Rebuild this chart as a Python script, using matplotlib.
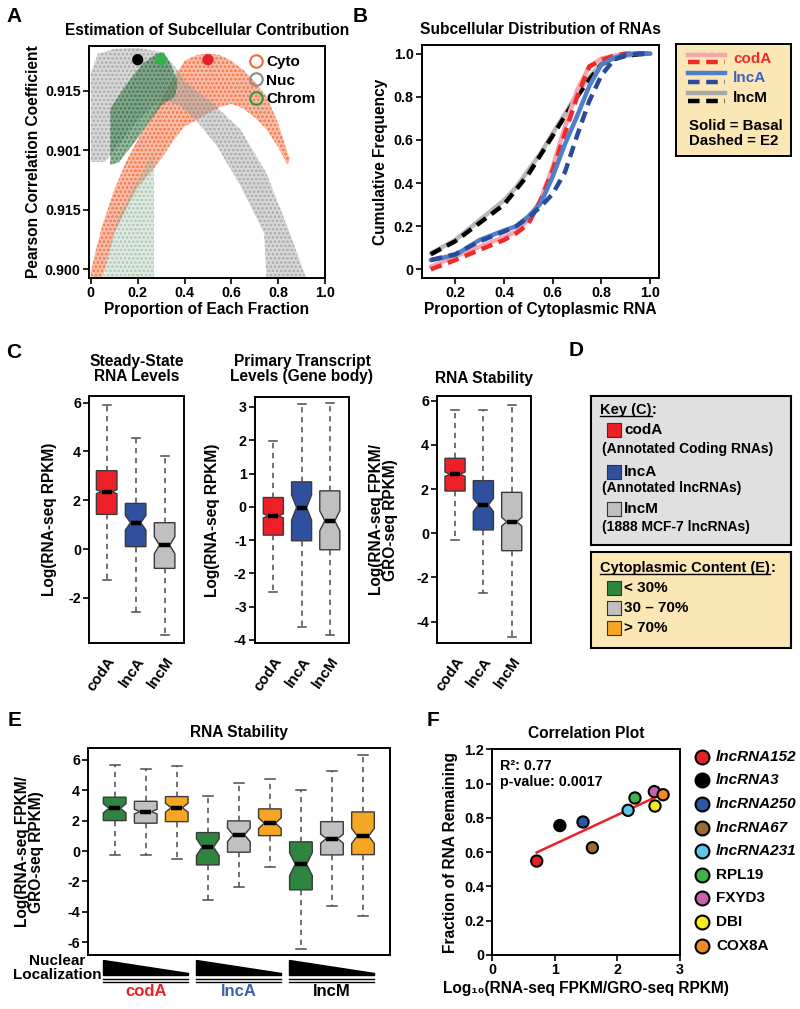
import matplotlib
matplotlib.use("Agg")
import matplotlib.pyplot as plt
import matplotlib.transforms as mtransforms
from matplotlib.patches import Polygon
from matplotlib.lines import Line2D
import numpy as np

plt.rcParams['font.family'] = ['Liberation Sans', 'DejaVu Sans']
plt.rcParams['font.weight'] = 'bold'
plt.rcParams['axes.labelweight'] = 'bold'
plt.rcParams['axes.titleweight'] = 'bold'
plt.rcParams['hatch.linewidth'] = 0.5
plt.rcParams['axes.linewidth'] = 1.4

W, H = 800, 1009
TICK = 10.3
LAB = 11.2

# ---------------- data ----------------
# A: outlines of the correlation clouds (x = proportion, y = position on the axis)
cyto_x = [0.0, 0.02, 0.05, 0.1, 0.15, 0.2, 0.25, 0.3, 0.35, 0.4, 0.45, 0.5, 0.55, 0.6, 0.65, 0.7, 0.75, 0.8, 0.84, 0.85,
          0.84, 0.8, 0.75, 0.7, 0.65, 0.6, 0.55, 0.5, 0.45, 0.4, 0.35, 0.3, 0.25, 0.2, 0.15, 0.1, 0.05, 0.0]
cyto_y = [-0.05, 0.3, 0.75, 1.33, 1.8, 2.17, 2.5, 2.85, 3.2, 3.5, 3.6, 3.62, 3.6, 3.5, 3.35, 3.15, 2.9, 2.45, 1.95, 1.85,
          1.75, 2.05, 2.35, 2.55, 2.7, 2.78, 2.72, 2.62, 2.5, 2.4, 2.15, 1.85, 1.6, 1.38, 1.0, 0.6, -0.15, -0.15]
nuc_x = [0.0, 0.0, 0.03, 0.1, 0.2, 0.3, 0.35, 0.41, 0.52, 0.64, 0.75, 0.85, 0.92,
         0.75, 0.74, 0.64, 0.54, 0.45, 0.38, 0.3, 0.2, 0.1, 0.06]
nuc_y = [1.8, 3.3, 3.62, 3.7, 3.72, 3.65, 3.45, 3.12, 2.79, 2.34, 1.61, 0.6, -0.15,
         -0.15, 0.6, 1.39, 2.06, 2.5, 2.75, 2.85, 2.5, 2.0, 1.8]
chrom_x = [0.083, 0.083, 0.15, 0.22, 0.28, 0.31, 0.34, 0.37, 0.36, 0.3, 0.2, 0.12]
chrom_y = [1.75, 2.7, 3.1, 3.45, 3.62, 3.65, 3.45, 3.15, 2.9, 2.75, 2.2, 1.8]
chrom_low_x = [0.055, 0.27, 0.27, 0.2, 0.12, 0.08, 0.06]
chrom_low_y = [-0.15, -0.15, 1.95, 1.5, 0.9, 0.4, 0.0]
best_x = [0.2, 0.3, 0.5]
best_y = [3.52, 3.52, 3.52]
a_ticks = [0, 1, 2, 3]
a_ticklabels = ['0.900', '0.915', '0.901', '0.915']

# B: cumulative distributions
b_x = [0.1, 0.2, 0.3, 0.4, 0.45, 0.5, 0.55, 0.6, 0.65, 0.7, 0.75, 0.8, 0.85, 0.9, 0.95, 1.0]
coda_basal = [0.012, 0.06, 0.105, 0.15, 0.175, 0.23, 0.32, 0.475, 0.66, 0.83, 0.94, 0.977, 0.99, 1.0, 1.0, 1.0]
coda_e2 = [0.0, 0.043, 0.09, 0.136, 0.167, 0.21, 0.32, 0.46, 0.63, 0.80, 0.94, 0.97, 0.99, 1.0, 1.0, 1.0]
lnca_basal = [0.043, 0.066, 0.136, 0.18, 0.2, 0.245, 0.305, 0.43, 0.58, 0.71, 0.85, 0.95, 0.98, 0.995, 1.0, 1.0]
lnca_e2 = [0.043, 0.07, 0.13, 0.175, 0.2, 0.24, 0.29, 0.35, 0.45, 0.62, 0.78, 0.9, 0.97, 0.995, 1.0, 1.0]
lncm_basal = [0.074, 0.136, 0.228, 0.32, 0.38, 0.46, 0.537, 0.63, 0.72, 0.815, 0.89, 0.954, 0.977, 0.99, 0.997, 1.0]
lncm_e2 = [0.07, 0.13, 0.215, 0.30, 0.37, 0.44, 0.53, 0.62, 0.71, 0.80, 0.88, 0.95, 0.975, 0.99, 0.997, 1.0]

# C: box plot summaries (codA, lncA, lncM)
c_names = ['codA', 'lncA', 'lncM']
steady_lo = [-1.27, -2.57, -3.52]
steady_q1 = [1.42, 0.1, -0.79]
steady_med = [2.35, 1.08, 0.16]
steady_q3 = [3.21, 1.87, 1.08]
steady_hi = [5.9, 4.54, 3.82]
steady_notch = [0.08, 0.3, 0.35]

primary_lo = [-2.57, -3.62, -3.85]
primary_q1 = [-0.85, -1.02, -1.29]
primary_med = [-0.27, -0.02, -0.42]
primary_q3 = [0.28, 0.75, 0.48]
primary_hi = [1.98, 3.1, 3.11]
primary_notch = [0.06, 0.38, 0.3]

stab_lo = [-0.3, -2.71, -4.68]
stab_q1 = [1.91, 0.15, -0.79]
stab_med = [2.67, 1.28, 0.52]
stab_q3 = [3.39, 2.38, 1.85]
stab_hi = [5.58, 5.58, 5.8]
stab_notch = [0.1, 0.3, 0.2]

# E: stability split by cytoplasmic content (<30%, 30-70%, >70%) for each class
e_lo = [-0.23, -0.23, -0.49, -3.21, -2.34, -1.02, -6.44, -3.59, -4.25]
e_q1 = [2.01, 1.84, 1.94, -0.91, -0.07, 1.02, -2.55, -0.25, -0.23]
e_med = [2.82, 2.6, 2.86, 0.26, 1.07, 1.84, -0.86, 0.82, 1.0]
e_q3 = [3.55, 3.28, 3.59, 1.22, 1.99, 2.78, 0.61, 1.94, 2.58]
e_hi = [5.67, 5.39, 5.6, 3.63, 4.51, 4.77, 4.03, 5.26, 6.33]
e_notch = [0.3, 0.15, 0.3, 0.55, 0.45, 0.35, 0.75, 0.3, 0.5]

# F: correlation plot
f_names = ['lncRNA152', 'lncRNA3', 'lncRNA250', 'lncRNA67', 'lncRNA231', 'RPL19', 'FXYD3', 'DBI', 'COX8A']
f_x = [0.71, 1.08, 1.45, 1.60, 2.17, 2.28, 2.59, 2.60, 2.73]
f_y = [0.548, 0.755, 0.776, 0.626, 0.844, 0.916, 0.953, 0.869, 0.935]
f_colors = ['#e8202a', '#000000', '#2c56a6', '#9a6b30', '#5cc8e6', '#44b049', '#c860b0', '#f4ec1c', '#f08a24']
f_italic = [True, True, True, True, True, False, False, False, False]

RED = '#ee2027'
BLUE = '#2f4f9f'
GREY = '#c0c0c0'
GREEN = '#2e8540'
ORANGE = '#f5a623'

fig = plt.figure(figsize=(8, 10.09), dpi=100)


def px_axes(l, t, r, b, **kw):
    return fig.add_axes([l / W, 1 - b / H, (r - l) / W, (b - t) / H], **kw)


def ftext(x, y, s, **kw):
    return fig.text(x / W, 1 - y / H, s, **kw)


def style_ax(ax):
    ax.tick_params(direction='out', length=4, width=1.2, labelsize=TICK, pad=2)


for letter, (lx, ly) in zip('ABCDEF', [(14, 16), (360, 16), (14, 352), (576, 350), (15, 721), (433, 721)]):
    ftext(lx, ly, letter, fontsize=15, ha='center', va='center')

# ---------------- A ----------------
axA = px_axes(89, 46, 325, 278)
style_ax(axA)
for xs, ys, col, fa, ha in [(cyto_x, cyto_y, '#f26b3a', 0.45, 0.7),
                            (chrom_low_x, chrom_low_y, '#8fb39a', 0.28, 0.5),
                            (nuc_x, nuc_y, '#9c9c9c', 0.4, 0.6),
                            (chrom_x, chrom_y, '#3c7a4c', 0.55, 0.6)]:
    pts = np.column_stack([xs, ys])
    axA.add_patch(Polygon(pts, closed=True, facecolor=col, alpha=fa, lw=0))
    axA.add_patch(Polygon(pts, closed=True, facecolor='none', edgecolor=col, alpha=ha, lw=0, hatch='oooo'))
axA.scatter(best_x, best_y, s=50, c=['black', '#2fb34a', '#e8202a'], zorder=5)
handles = [Line2D([], [], ls='none', marker='o', ms=9, mfc='none', mew=1.5, mec=c)
           for c in ['#f26b3a', '#8c8c8c', '#2e9a48']]
axA.legend(handles, ['Cyto', 'Nuc', 'Chrom'], loc='upper right', frameon=False, fontsize=11,
           handletextpad=0.1, labelspacing=0.3, borderaxespad=0.2, handlelength=1.2)
axA.set_xlim(-0.008, 1.0)
axA.set_ylim(-0.15, 3.75)
axA.set_xticks([0, 0.2, 0.4, 0.6, 0.8, 1.0])
axA.set_xticklabels(['0', '0.2', '0.4', '0.6', '0.8', '1.0'])
axA.set_yticks(a_ticks)
axA.set_yticklabels(a_ticklabels)
axA.set_title('Estimation of Subcellular Contribution', fontsize=LAB, pad=8)
axA.set_xlabel('Proportion of Each Fraction', fontsize=LAB, labelpad=1)
axA.set_ylabel('Pearson Correlation Coefficient', fontsize=LAB, labelpad=3)

# ---------------- B ----------------
axB = px_axes(422, 45, 659, 278)
style_ax(axB)
dash = (0, (2.6, 1.5))
axB.plot(b_x, lncm_basal, color='#b8b8b8', lw=3.2, solid_capstyle='round')
axB.plot(b_x, lncm_e2, color='black', lw=3.2, ls=dash)
axB.plot(b_x, coda_basal, color='#f4a6ae', lw=3.2, solid_capstyle='round')
axB.plot(b_x, coda_e2, color='#ee2a2a', lw=3.2, ls=dash)
axB.plot(b_x, lnca_basal, color='#4f7fc8', lw=3.2, solid_capstyle='round')
axB.plot(b_x, lnca_e2, color='#2a4b9b', lw=3.2, ls=dash)
axB.set_xlim(0.064, 1.036)
axB.set_ylim(-0.04, 1.04)
axB.set_xticks([0.2, 0.4, 0.6, 0.8, 1.0])
axB.set_xticklabels(['0.2', '0.4', '0.6', '0.8', '1.0'])
axB.set_yticks([0, 0.2, 0.4, 0.6, 0.8, 1.0])
axB.set_yticklabels(['0', '0.2', '0.4', '0.6', '0.8', '1.0'])
axB.set_title('Subcellular Distribution of RNAs', fontsize=LAB, pad=8)
axB.set_xlabel('Proportion of Cytoplasmic RNA', fontsize=LAB, labelpad=1)
axB.set_ylabel('Cumulative Frequency', fontsize=LAB, labelpad=4)

# B key
axBk = px_axes(675.7, 44, 790.7, 155.7, facecolor='#fbe7b5')
axBk.set_xlim(675.7, 790.7)
axBk.set_ylim(155.7, 44)
axBk.set_xticks([])
axBk.set_yticks([])
for (ys, yd, yt, cs, cd, lab, tc) in [(55, 62.3, 59, '#f4a6ae', '#ee2a2a', 'codA', '#ee2a2a'),
                                       (73.3, 81.7, 78, '#4f7fc8', '#2a4b9b', 'lncA', '#3a62b5'),
                                       (93.3, 101, 98, '#a8a8a8', 'black', 'lncM', 'black')]:
    axBk.plot([688.3, 725], [ys, ys], color=cs, lw=3.2)
    axBk.plot([688.3, 725], [yd, yd], color=cd, lw=3.2, ls=dash)
    axBk.text(733, yt, lab, color=tc, fontsize=11, va='center')
axBk.text(689, 126, 'Solid = Basal', fontsize=10.8, va='center')
axBk.text(689, 141, 'Dashed = E2', fontsize=10.8, va='center')


# ---------------- C ----------------
def draw_boxes(ax, pos, lo, q1, med, q3, hi, notch, colors, width, capw):
    stats = []
    for i in range(len(pos)):
        stats.append(dict(whislo=lo[i], q1=q1[i], med=med[i], q3=q3[i], whishi=hi[i],
                          cilo=med[i] - notch[i], cihi=med[i] + notch[i], fliers=[]))
    bp = ax.bxp(stats, positions=pos, widths=width, capwidths=capw, shownotches=True,
                patch_artist=True, showfliers=False,
                boxprops=dict(edgecolor='#3a3a3a', linewidth=1.0),
                medianprops=dict(color='black', linewidth=3.2, solid_capstyle='butt'),
                whiskerprops=dict(color='#4a4a4a', linewidth=1.1, linestyle=(0, (3.5, 3))),
                capprops=dict(color='#4a4a4a', linewidth=1.1))
    for patch, c in zip(bp['boxes'], colors):
        patch.set_facecolor(c)
    return bp


c_cols = [RED, BLUE, GREY]
c_panels = [
    ((89.3, 396, 184.3, 643.3), (0.4, 3.68), (-3.86, 6.27), [-2, 0, 2, 4, 6],
     (steady_lo, steady_q1, steady_med, steady_q3, steady_hi, steady_notch),
     'Steady-State\nRNA Levels', 'Log(RNA-seq RPKM)', 57, (136.7, 369)),
    ((255, 397, 349, 643.3), (0.35, 3.68), (-4.1, 3.3), [-4, -3, -2, -1, 0, 1, 2, 3],
     (primary_lo, primary_q1, primary_med, primary_q3, primary_hi, primary_notch),
     'Primary Transcript\nLevels (Gene body)', 'Log(RNA-seq RPKM)', 220, (302, 369)),
    ((437.3, 396, 531, 643.3), (0.375, 3.68), (-4.98, 6.21), [-4, -2, 0, 2, 4, 6],
     (stab_lo, stab_q1, stab_med, stab_q3, stab_hi, stab_notch),
     'RNA Stability', 'Log(RNA-seq FPKM/\nGRO-seq RPKM)', 398, (484, 379)),
]
for box, xl, yl, yt, vals, title, ylab, ylab_x, title_xy in c_panels:
    ax = px_axes(*box)
    style_ax(ax)
    draw_boxes(ax, [1, 2, 3], *vals, c_cols, 0.71, 0.28)
    ax.set_xlim(*xl)
    ax.set_ylim(*yl)
    ax.set_yticks(yt)
    ax.set_yticklabels([str(v) for v in yt])
    ax.set_xticks([1, 2, 3])
    ax.set_xticklabels(c_names, rotation=55, ha='right', rotation_mode='anchor', fontsize=11)
    ax.tick_params(axis='x', length=0, pad=8)
    ax.set_ylabel(ylab, fontsize=LAB, linespacing=0.95)
    ax.yaxis.set_label_coords((ylab_x - box[0]) / (box[2] - box[0]), 0.5)
    ftext(title_xy[0], title_xy[1], title, fontsize=LAB, ha='center', va='center', linespacing=1.0)

# ---------------- D ----------------
axD1 = px_axes(590.7, 396, 791, 545, facecolor='#e0e0e0')
axD2 = px_axes(590.7, 551.7, 791, 648, facecolor='#fbe7b5')
for axd, t, b in [(axD1, 396, 545), (axD2, 551.7, 648)]:
    axd.set_xlim(590.7, 791)
    axd.set_ylim(b, t)
    axd.set_xticks([])
    axd.set_yticks([])
    for s in axd.spines.values():
        s.set_linewidth(1.5)

renderer = fig.canvas.get_renderer()


def underlined(ax, x, y, s, size):
    t = ax.text(x, y, s, fontsize=size, va='center')
    bb = t.get_window_extent(renderer=renderer)
    x_end = x + bb.width * 100 / fig.dpi  # one data unit per pixel
    ax.plot([x, x_end], [y + 6, y + 6], color='black', lw=1)
    ax.text(x_end + 0.5, y, ':', fontsize=size, va='center')


underlined(axD1, 600, 410, 'Key (C)', 10.5)
for y, y2, col, lab, sub in [(430, 449, RED, 'codA', '(Annotated Coding RNAs)'),
                             (471.7, 488, BLUE, 'lncA', '(Annotated lncRNAs)'),
                             (509.3, 527.3, GREY, 'lncM', '(1888 MCF-7 lncRNAs)')]:
    axD1.scatter([613.5], [y], marker='s', s=100, c=col, edgecolors='#333333', linewidths=0.8)
    axD1.text(624, y, lab, fontsize=11, va='center')
    axD1.text(602, y2, sub, fontsize=10, va='center')

underlined(axD2, 600, 568.3, 'Cytoplasmic Content (E)', 10.5)
for y, col, lab in [(587.7, GREEN, '< 30%'), (608.3, GREY, '30 \u2013 70%'), (628.3, ORANGE, '> 70%')]:
    axD2.scatter([613.5], [y], marker='s', s=100, c=col, edgecolors='#333333', linewidths=0.8)
    axD2.text(624, y, lab, fontsize=11, va='center')

# ---------------- E ----------------
axE = px_axes(88.3, 748.3, 390, 955)
style_ax(axE)
e_pos = list(range(1, 10))
draw_boxes(axE, e_pos, e_lo, e_q1, e_med, e_q3, e_hi, e_notch,
           [GREEN, GREY, ORANGE] * 3, 0.73, 0.32)
axE.set_xlim(0.15, 9.87)
axE.set_ylim(-6.84, 6.77)
axE.set_yticks([-6, -4, -2, 0, 2, 4, 6])
axE.set_yticklabels(['-6', '-4', '-2', '0', '2', '4', '6'])
axE.set_xticks([])
axE.set_title('RNA Stability', fontsize=LAB, pad=8)
axE.set_ylabel('Log(RNA-seq FPKM/\nGRO-seq RPKM)', fontsize=LAB, linespacing=0.95)
axE.yaxis.set_label_coords((44 - 88.3) / (390 - 88.3), 0.5)

trE = mtransforms.blended_transform_factory(axE.transData, axE.transAxes)
fy = lambda p: (955 - p) / (955 - 748.3)
for g, (lab, col) in enumerate([('codA', '#ee2027'), ('lncA', '#3d5fb0'), ('lncM', 'black')]):
    x0 = e_pos[3 * g] - 0.37
    x1 = e_pos[3 * g + 2] + 0.37
    tri = Polygon([[x0, fy(960)], [x0, fy(974.5)], [x1, fy(974.5)], [x1, fy(972.5)]], closed=True,
                  facecolor='black', edgecolor='black', transform=trE, clip_on=False)
    axE.add_patch(tri)
    for yy in (979.3, 982.3):
        axE.plot([x0, x1], [fy(yy), fy(yy)], color='black', lw=1.0, transform=trE, clip_on=False)
    axE.text((x0 + x1) / 2, fy(992), lab, color=col, fontsize=12, ha='center', va='center',
             transform=trE)
ftext(57, 968, 'Nuclear\nLocalization', fontsize=11, ha='center', va='center',
      multialignment='center', linespacing=1.0)

# ---------------- F ----------------
axF = px_axes(492.3, 749.3, 680, 955)
style_ax(axF)
coef = np.polyfit(f_x, f_y, 1)
fit_x = np.array([min(f_x), f_x[f_names.index('DBI')]])
axF.plot(fit_x, np.polyval(coef, fit_x), color='#ee2027', lw=1.8, zorder=2)
axF.scatter(f_x, f_y, s=66, c=f_colors, edgecolors='black', linewidths=1.5, zorder=3)
axF.set_xlim(0, 3)
axF.set_ylim(0, 1.2)
axF.set_xticks([0, 1, 2, 3])
axF.set_yticks([0, 0.2, 0.4, 0.6, 0.8, 1.0, 1.2])
axF.set_yticklabels(['0', '0.2', '0.4', '0.6', '0.8', '1.0', '1.2'])
axF.set_title('Correlation Plot', fontsize=LAB, pad=8)
axF.set_xlabel('Log\u2081\u2080(RNA-seq FPKM/GRO-seq RPKM)', fontsize=LAB, labelpad=3)
axF.set_ylabel('Fraction of RNA Remaining', fontsize=LAB, labelpad=4)
axF.text(0.04, 0.955, 'R\u00b2: 0.77\np-value: 0.0017', transform=axF.transAxes, fontsize=10.3,
         va='top', linespacing=1.2)

axFk = px_axes(690, 745, 800, 960)
axFk.set_xlim(690, 800)
axFk.set_ylim(960, 745)
axFk.axis('off')
for i, name in enumerate(f_names):
    yy = 756.7 + i * 23.6
    axFk.scatter([702], [yy], s=100, c=f_colors[i], edgecolors='black', linewidths=1.5)
    axFk.text(716, yy, name, fontsize=11, va='center',
              style='italic' if f_italic[i] else 'normal')

fig.savefig('out.png', dpi=100)
